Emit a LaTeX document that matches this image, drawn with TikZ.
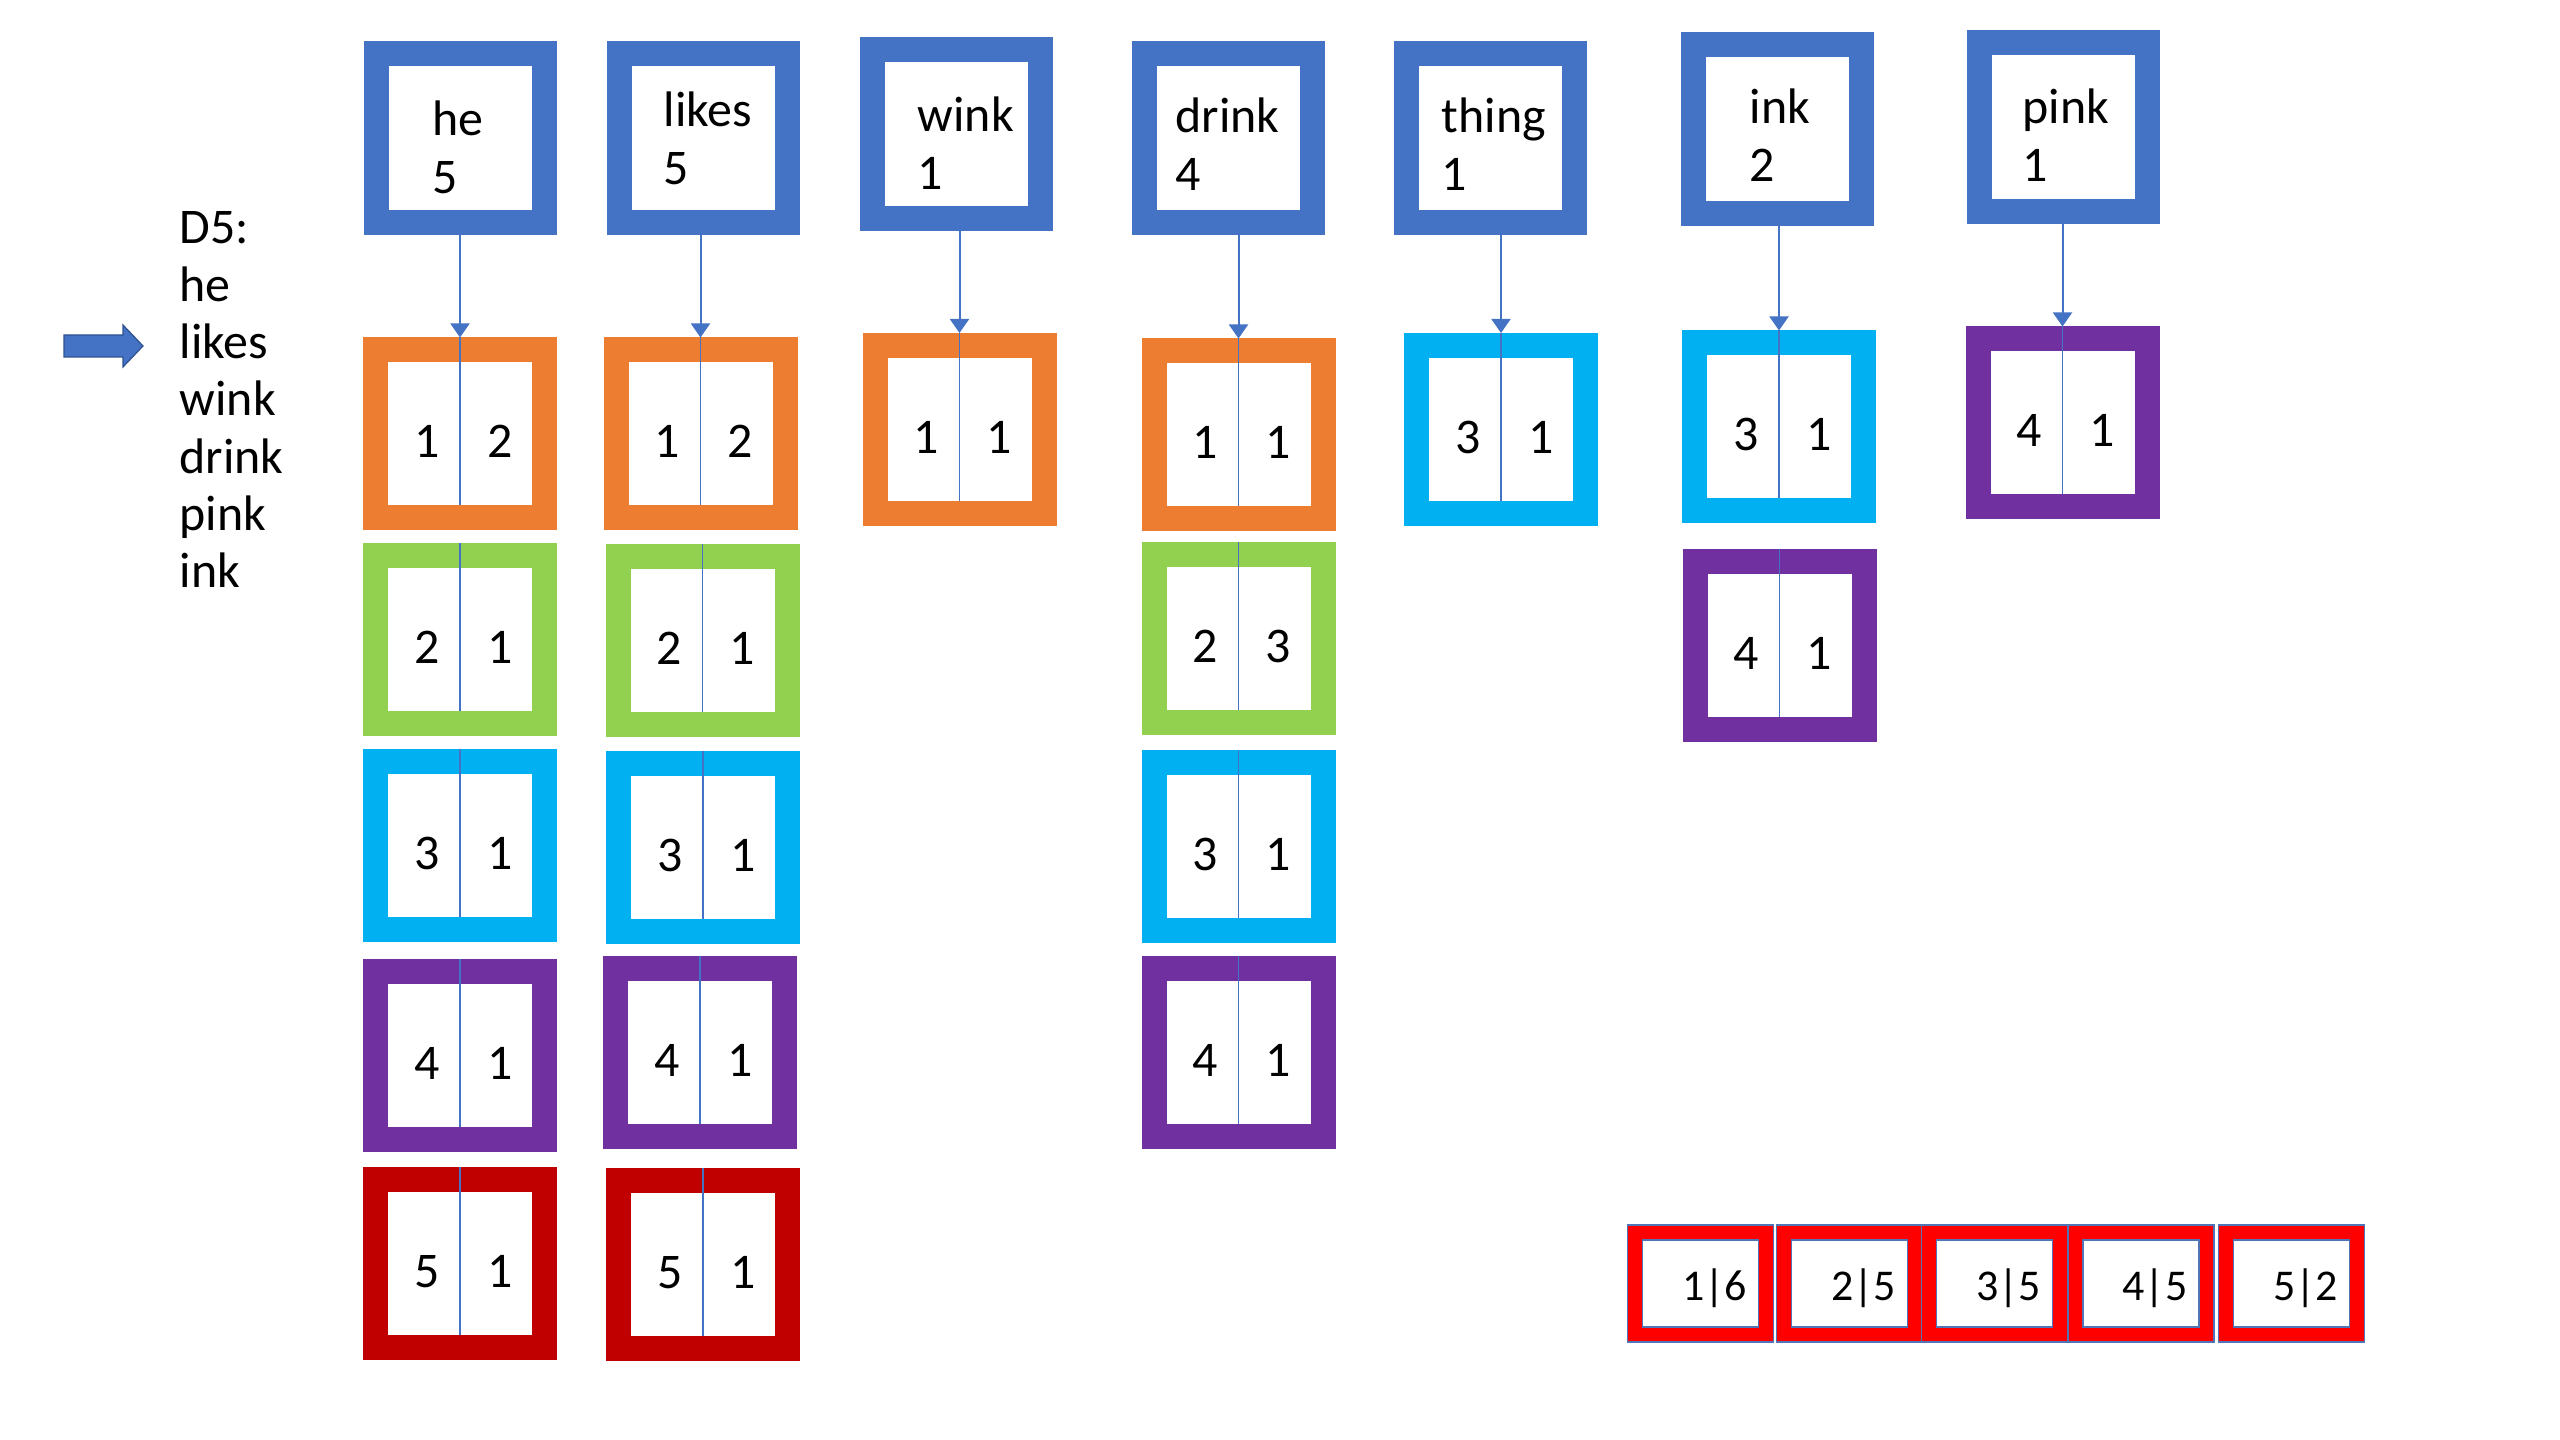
\documentclass[tikz,border=0pt]{standalone}
\usepackage{fontspec}
\setmainfont{Carlito}
\usetikzlibrary{arrows.meta,calc}
\definecolor{cblue}{HTML}{4472C4}
\definecolor{corange}{HTML}{ED7D31}
\definecolor{cgreen}{HTML}{92D050}
\definecolor{ccyan}{HTML}{00B0F0}
\definecolor{cpurple}{HTML}{7030A0}
\definecolor{cdred}{HTML}{C00000}
\definecolor{cred}{HTML}{FF0000}
\definecolor{cdarkblue}{HTML}{2F528F}
\tikzset{
 wordbox/.style={draw=cblue, line width=2.5mm, minimum width=16.8mm, minimum height=16.9mm, inner sep=0pt, outer sep=0pt, fill=white},
 cellbox/.style={line width=2.5mm, minimum width=16.9mm, minimum height=16.8mm, inner sep=0pt, outer sep=0pt, fill=white},
 txt/.style={font=\fontsize{14.2}{17}\selectfont, inner sep=0pt, anchor=base west},
 num/.style={font=\fontsize{14.2}{17}\selectfont, inner sep=0pt, anchor=base},
 link/.style={draw=cblue, line width=0.2mm, -{Triangle[length=1.4mm,width=1.9mm]}},
 divider/.style={draw=cblue, line width=0.18mm},
 sumbox/.style={draw=cred, line width=1.5mm, minimum width=13.1mm, minimum height=10.2mm, inner sep=0pt, outer sep=0pt, fill=white},
 sumtxt/.style={font=\fontsize{12.5}{15}\selectfont, inner sep=0pt, anchor=base east},
 edgeline/.style={draw=cblue!80!gray, line width=0.12mm},
 bigarrow/.style={fill=cblue, draw=cdarkblue, line width=0.12mm},
}
\newcommand\cellnode[6]{%
 \node[cellbox, draw=#4] (#1) at (#2,#3) {};
 \draw[divider] ($(#1.north)+(0,-12.5)$) -- ($(#1.south)+(0,-12.5)$);
 \node[num] (#1-l) at ({#2-33},{#3+24}) {#5};
 \node[num] (#1-r) at ({#2+40},{#3+24}) {#6};
}
\newcommand\wordnode[7]{% name, cx, cy, word, count, textx, baseline
 \node[wordbox] (#1) at (#2,#3) {};
 \node[txt] (#1-w) at (#6,#7) {#4};
 \node[txt] (#1-n) at (#6,{#7+57.5}) {#5};
}
\begin{document}
\begin{tikzpicture}[x=0.1mm, y=-0.1mm]
\useasboundingbox (0,0) rectangle (2560,1440);

% word boxes
\wordnode{he}{460}{138.5}{he}{5}{432}{136}
\wordnode{likes}{703}{138.5}{likes}{5}{663}{127}
\wordnode{wink}{956}{134.5}{wink}{1}{917}{132}
\wordnode{drink}{1228}{138.5}{drink}{4}{1175}{133}
\wordnode{thing}{1490.5}{138.5}{thing}{1}{1441}{133}
\wordnode{ink}{1777.5}{129.5}{ink}{2}{1749}{124}
\wordnode{pink}{2063}{127}{pink}{1}{2022}{124}

% posting cells
\cellnode{he1}{460}{434}{corange}{1}{2}
\cellnode{he2}{460}{639.5}{cgreen}{2}{1}
\cellnode{he3}{460}{846}{ccyan}{3}{1}
\cellnode{he4}{460}{1055.5}{cpurple}{4}{1}
\cellnode{he5}{460}{1263}{cdred}{5}{1}

\cellnode{likes1}{700.5}{434}{corange}{1}{2}
\cellnode{likes2}{702.5}{641}{cgreen}{2}{1}
\cellnode{likes3}{703}{847.5}{ccyan}{3}{1}
\cellnode{likes4}{700}{1052.5}{cpurple}{4}{1}
\cellnode{likes5}{703}{1264.5}{cdred}{5}{1}

\cellnode{wink1}{959.5}{429.5}{corange}{1}{1}

\cellnode{drink1}{1238.5}{435}{corange}{1}{1}
\cellnode{drink2}{1238.5}{639}{cgreen}{2}{3}
\cellnode{drink3}{1238.5}{846.5}{ccyan}{3}{1}
\cellnode{drink4}{1238.5}{1052.5}{cpurple}{4}{1}

\cellnode{thing1}{1501}{429.5}{ccyan}{3}{1}

\cellnode{ink1}{1779}{427}{ccyan}{3}{1}
\cellnode{ink2}{1779.5}{645.5}{cpurple}{4}{1}

\cellnode{pink1}{2062.5}{423}{cpurple}{4}{1}

% connectors
\foreach \w in {he,likes,wink,drink,thing,ink,pink}{
  \draw[link] ($(\w.south -| \w1.north)+(0,12.5)$) -- ($(\w1.north)+(0,-12.5)$);
}

% document list
\foreach \t [count=\i from 0] in {D5:,he,likes,wink,drink,pink,ink}{
  \node[txt] (list\i) at (179,{244+57.3*\i}) {\t};
}

% block arrow
\draw[bigarrow] (64,335) -- (123,335) -- (123,325) -- (143,346) -- (123,367) -- (123,357) -- (64,357) -- cycle;

% summary boxes
\foreach \n/\cx/\t in {1/1700.5/1|6, 2/1849.5/2|5, 3/1994.5/3|5, 4/2141/4|5, 5/2291.5/5|2}{
  \node[sumbox] (s\n) at (\cx,1283.5) {};
  \draw[edgeline] ($(s\n.north west)+(-7.5,-7.5)$) rectangle ($(s\n.south east)+(7.5,7.5)$);
  \draw[edgeline] ($(s\n.north west)+(7.5,7.5)$) rectangle ($(s\n.south east)+(-7.5,-7.5)$);
  \node[sumtxt] (t\n) at ({\cx+47},1300) {\t};
}
\end{tikzpicture}
\end{document}
